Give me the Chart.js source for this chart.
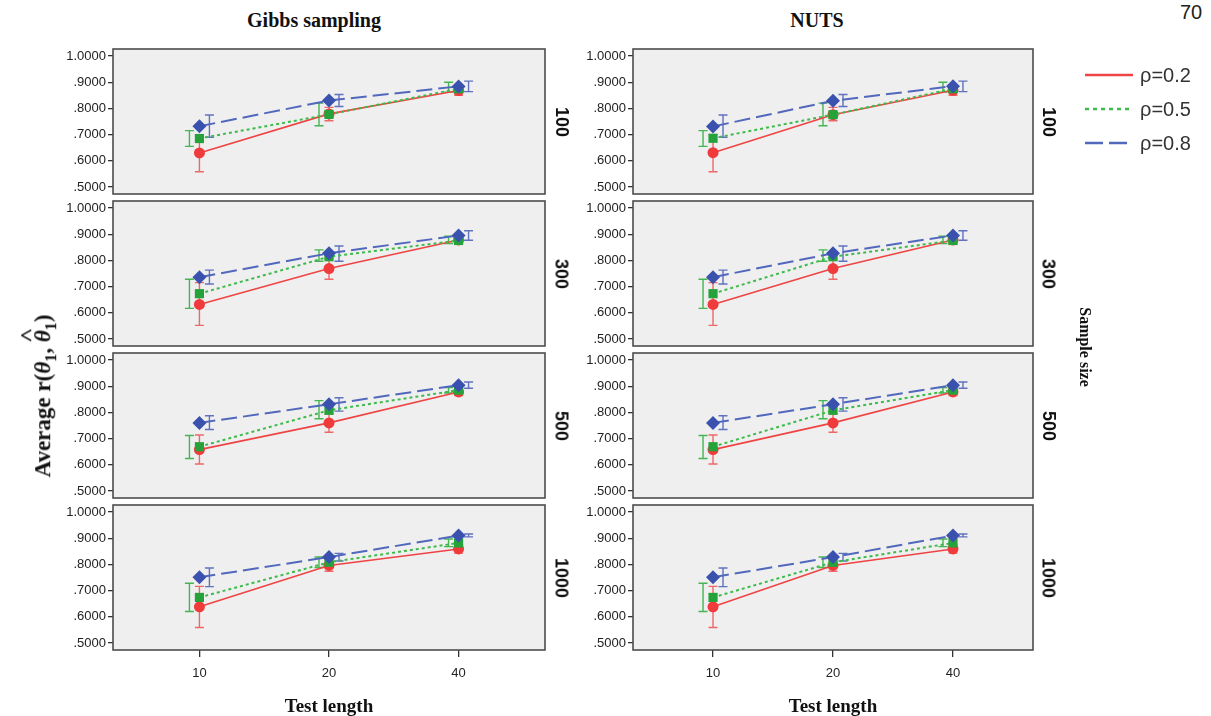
<!DOCTYPE html>
<html>
<head>
<meta charset="utf-8">
<script src="https://cdn.jsdelivr.net/npm/chart.js@4.4.1/dist/chart.umd.min.js"></script>
<style>
  html, body { margin: 0; padding: 0; background: #fff; }
  body { width: 1211px; height: 716px; position: relative; overflow: hidden; font-family: 'Liberation Sans', Arial, sans-serif; }
  canvas { position: absolute; }
  .lbl { position: absolute; white-space: nowrap; transform: translate(-50%, -50%); color: #111; }
  .serif { font-family: 'Liberation Serif', 'Times New Roman', serif; font-weight: bold; }
  .rowlbl { font-weight: bold; font-size: 18px; transform: translate(-50%, -50%) rotate(90deg); color: #111; }
  .legend { position: absolute; left: 1085px; top: 58px; font-size: 20px; color: #333; }
  .legend div { height: 34px; display: flex; align-items: center; }
  .legend svg { margin-right: 7px; }
  .hat { position: relative; display: inline-block; }
  .hat b { position: absolute; left: 0.02em; right: 0; top: -0.62em; text-align: center; font-style: normal; font-size: 0.9em; transform: scaleX(1.3); }
</style>
</head>
<body>
<script>
// kategorie i etykiety
const testLengths = ['10', '20', '40'];
const sampleSizes = ['100', '300', '500', '1000'];
const rhoLabels = ['ρ=0.2', 'ρ=0.5', 'ρ=0.8'];
const yTicks = [0.5, 0.6, 0.7, 0.8, 0.9, 1.0];
const yTickLabels = ['.5000', '.6000', '.7000', '.8000', '.9000', '1.0000'];

// Gibbs sampling - średnie i przedziały (wiersze: 100, 300, 500, 1000; kolumny: 10, 20, 40)
const gibbsRho02 = [[0.630, 0.779, 0.868], [0.632, 0.769, 0.878], [0.658, 0.760, 0.878], [0.638, 0.796, 0.859]];
const gibbsRho02Low = [[0.558, 0.753, 0.850], [0.552, 0.728, 0.864], [0.603, 0.724, 0.864], [0.559, 0.774, 0.843]];
const gibbsRho02High = [[0.700, 0.804, 0.885], [0.715, 0.808, 0.891], [0.714, 0.795, 0.891], [0.716, 0.818, 0.876]];
const gibbsRho05 = [[0.685, 0.777, 0.875], [0.673, 0.814, 0.876], [0.669, 0.808, 0.885], [0.674, 0.808, 0.882]];
const gibbsRho05Low = [[0.655, 0.734, 0.862], [0.617, 0.797, 0.864], [0.624, 0.776, 0.874], [0.620, 0.788, 0.868]];
const gibbsRho05High = [[0.715, 0.820, 0.900], [0.728, 0.840, 0.892], [0.712, 0.845, 0.895], [0.728, 0.828, 0.897]];
const gibbsRho08 = [[0.732, 0.830, 0.884], [0.736, 0.827, 0.895], [0.760, 0.831, 0.904], [0.751, 0.828, 0.910]];
const gibbsRho08Low = [[0.690, 0.807, 0.864], [0.710, 0.797, 0.877], [0.735, 0.805, 0.892], [0.715, 0.813, 0.905]];
const gibbsRho08High = [[0.775, 0.853, 0.904], [0.763, 0.855, 0.913], [0.787, 0.856, 0.916], [0.786, 0.842, 0.916]];

// NUTS
const nutsRho02 = [[0.631, 0.776, 0.869], [0.632, 0.769, 0.878], [0.658, 0.760, 0.878], [0.638, 0.796, 0.859]];
const nutsRho02Low = [[0.558, 0.753, 0.850], [0.552, 0.728, 0.864], [0.603, 0.724, 0.864], [0.559, 0.774, 0.843]];
const nutsRho02High = [[0.700, 0.804, 0.885], [0.715, 0.808, 0.891], [0.714, 0.795, 0.891], [0.716, 0.818, 0.876]];
const nutsRho05 = [[0.686, 0.776, 0.875], [0.673, 0.814, 0.876], [0.669, 0.808, 0.885], [0.674, 0.808, 0.882]];
const nutsRho05Low = [[0.655, 0.734, 0.862], [0.617, 0.797, 0.864], [0.624, 0.776, 0.874], [0.620, 0.788, 0.868]];
const nutsRho05High = [[0.715, 0.820, 0.900], [0.728, 0.840, 0.892], [0.712, 0.845, 0.895], [0.728, 0.828, 0.897]];
const nutsRho08 = [[0.731, 0.829, 0.885], [0.736, 0.827, 0.895], [0.760, 0.831, 0.904], [0.751, 0.828, 0.910]];
const nutsRho08Low = [[0.690, 0.807, 0.864], [0.710, 0.797, 0.877], [0.735, 0.805, 0.892], [0.715, 0.813, 0.905]];
const nutsRho08High = [[0.775, 0.853, 0.904], [0.763, 0.855, 0.913], [0.787, 0.856, 0.916], [0.786, 0.842, 0.916]];

Chart.defaults.font.family = "'Liberation Sans', Arial, sans-serif";
Chart.defaults.color = '#222';

// tło i ramka panelu
const framePlugin = {
  id: 'frame',
  beforeDraw(chart) {
    const a = chart.chartArea, ctx = chart.ctx;
    ctx.save();
    ctx.fillStyle = '#efefef';
    ctx.fillRect(a.left, a.top, a.width, a.height);
    ctx.restore();
  },
  afterDraw(chart) {
    const a = chart.chartArea, ctx = chart.ctx;
    ctx.save();
    ctx.strokeStyle = '#4d4d4d';
    ctx.lineWidth = 1.6;
    ctx.strokeRect(a.left, a.top, a.width, a.height);
    ctx.restore();
  }
};

// słupki błędów rysowane przez skale wykresu
const errorBarPlugin = {
  id: 'errorBars',
  beforeDatasetsDraw(chart) {
    const ctx = chart.ctx, x = chart.scales.x, y = chart.scales.y;
    chart.data.datasets.forEach(ds => {
      ctx.save();
      ctx.strokeStyle = ds.errColor;
      ctx.lineWidth = 1.4;
      ds.errLow.forEach((lo, i) => {
        const px = x.getPixelForValue(i) + ds.errShift;
        const y1 = y.getPixelForValue(lo), y2 = y.getPixelForValue(ds.errHigh[i]);
        ctx.beginPath();
        ctx.moveTo(px, y1); ctx.lineTo(px, y2);
        ctx.moveTo(px - 4.5, y1); ctx.lineTo(px + 4.5, y1);
        ctx.moveTo(px - 4.5, y2); ctx.lineTo(px + 4.5, y2);
        ctx.stroke();
      });
      ctx.restore();
    });
  }
};

const boxTops = [49, 201, 353, 505];
const boxH = 145;
const yAxisW = 75, padTop = 10, padRight = 10, padBottom = 10, xAxisH = 50;

const columns = [
  { left: 113, right: 545, title: 'Gibbs sampling', titleX: 314, rowLblX: 561,
    s02: gibbsRho02, s02l: gibbsRho02Low, s02h: gibbsRho02High,
    s05: gibbsRho05, s05l: gibbsRho05Low, s05h: gibbsRho05High,
    s08: gibbsRho08, s08l: gibbsRho08Low, s08h: gibbsRho08High },
  { left: 633, right: 1033, title: 'NUTS', titleX: 817, rowLblX: 1048,
    s02: nutsRho02, s02l: nutsRho02Low, s02h: nutsRho02High,
    s05: nutsRho05, s05l: nutsRho05Low, s05h: nutsRho05High,
    s08: nutsRho08, s08l: nutsRho08Low, s08h: nutsRho08High }
];

function addLabel(html, cx, cy, cls, style) {
  const d = document.createElement('div');
  d.className = 'lbl ' + (cls || '');
  d.innerHTML = html;
  d.style.left = cx + 'px';
  d.style.top = cy + 'px';
  if (style) Object.assign(d.style, style);
  document.body.appendChild(d);
}

function toPoints(arr) {
  return arr.map((v, i) => ({ x: i, y: v }));
}

columns.forEach(col => {
  const boxW = col.right - col.left;
  sampleSizes.forEach((size, r) => {
    const isLast = r === sampleSizes.length - 1;
    const canvas = document.createElement('canvas');
    const w = yAxisW + boxW + padRight;
    const h = padTop + boxH + (isLast ? xAxisH : padBottom);
    canvas.width = w; canvas.height = h;
    canvas.style.left = (col.left - yAxisW) + 'px';
    canvas.style.top = (boxTops[r] - padTop) + 'px';
    canvas.style.width = w + 'px'; canvas.style.height = h + 'px';
    document.body.appendChild(canvas);

    new Chart(canvas.getContext('2d'), {
      type: 'line',
      data: {
        datasets: [
          {
            label: rhoLabels[0], data: toPoints(col.s02[r]), order: 3,
            borderColor: '#ef4444', backgroundColor: '#ef3b3b', borderWidth: 1.6,
            pointStyle: 'circle', pointRadius: 5.5, pointBorderWidth: 0,
            errLow: col.s02l[r], errHigh: col.s02h[r], errShift: 0, errColor: 'rgba(236,80,80,0.85)'
          },
          {
            label: rhoLabels[1], data: toPoints(col.s05[r]), order: 2,
            borderColor: '#3dbb4a', backgroundColor: '#25a33a', borderWidth: 2, borderDash: [3, 3],
            pointStyle: 'rect', pointRadius: 6.5, pointBorderWidth: 0,
            errLow: col.s05l[r], errHigh: col.s05h[r], errShift: -10, errColor: 'rgba(50,175,65,0.9)'
          },
          {
            label: rhoLabels[2], data: toPoints(col.s08[r]), order: 1,
            borderColor: '#5268bd', backgroundColor: '#3a52ad', borderWidth: 2, borderDash: [16, 6],
            pointStyle: 'rectRot', pointRadius: 7, pointBorderWidth: 0,
            errLow: col.s08l[r], errHigh: col.s08h[r], errShift: 10, errColor: 'rgba(80,100,185,0.9)'
          }
        ]
      },
      options: {
        responsive: false,
        animation: false,
        devicePixelRatio: 1,
        layout: { padding: { top: padTop, right: padRight, bottom: isLast ? 0 : padBottom, left: 0 }, autoPadding: false },
        plugins: { legend: { display: false }, tooltip: { enabled: false } },
        scales: {
          x: {
            type: 'linear', min: -0.667, max: 2.667, display: isLast,
            afterBuildTicks: s => { s.ticks = testLengths.map((t, i) => ({ value: i })); },
            afterFit: s => { s.height = isLast ? xAxisH : 0; },
            ticks: { callback: (v, i) => testLengths[i], font: { size: 13 }, color: '#222', padding: 9, maxRotation: 0 },
            grid: { drawOnChartArea: false, drawTicks: true, tickLength: 7, color: '#333', lineWidth: 1.3 },
            border: { display: false }
          },
          y: {
            min: 0.4733, max: 1.0267,
            afterBuildTicks: s => { s.ticks = yTicks.map(v => ({ value: v })); },
            afterFit: s => { s.width = yAxisW; },
            ticks: { callback: (v, i) => yTickLabels[i], font: { size: 13 }, color: '#222', padding: 2 },
            grid: { drawOnChartArea: false, drawTicks: true, tickLength: 5, color: '#333', lineWidth: 1.3 },
            border: { display: false }
          }
        }
      },
      plugins: [framePlugin, errorBarPlugin]
    });

    addLabel(size, col.rowLblX, boxTops[r] + boxH / 2, 'rowlbl');
  });

  addLabel(col.title, col.titleX, 20, 'serif', { fontSize: '20px' });
  addLabel('Test length', (col.left + col.right) / 2, 706, 'serif', { fontSize: '19px' });
});

// opis osi Y i prawej strony
addLabel('Average r(<i>θ</i><sub style="font-size:0.7em">1</sub>, <i class="hat">θ<b>^</b></i><sub style="font-size:0.7em">1</sub>)', 45, 396, 'serif',
  { fontSize: '23px', transform: 'translate(-50%, -50%) rotate(-90deg)' });
addLabel('Sample size', 1085, 347, 'serif', { fontSize: '16px', transform: 'translate(-50%, -50%) rotate(90deg)' });
addLabel('70', 1191, 12, '', { fontSize: '20px', color: '#222' });

// legenda
const legendStyles = [
  { color: '#ef4444', dash: '' },
  { color: '#3dbb4a', dash: '4 4' },
  { color: '#5268bd', dash: '18 6' }
];
const legend = document.createElement('div');
legend.className = 'legend';
rhoLabels.forEach((lbl, i) => {
  const st = legendStyles[i];
  const row = document.createElement('div');
  row.innerHTML = '<svg width="48" height="6"><line x1="0" y1="3" x2="48" y2="3" stroke="' + st.color +
    '" stroke-width="2.5" stroke-dasharray="' + st.dash + '"/></svg><span>' + lbl + '</span>';
  legend.appendChild(row);
});
document.body.appendChild(legend);
</script>
</body>
</html>
